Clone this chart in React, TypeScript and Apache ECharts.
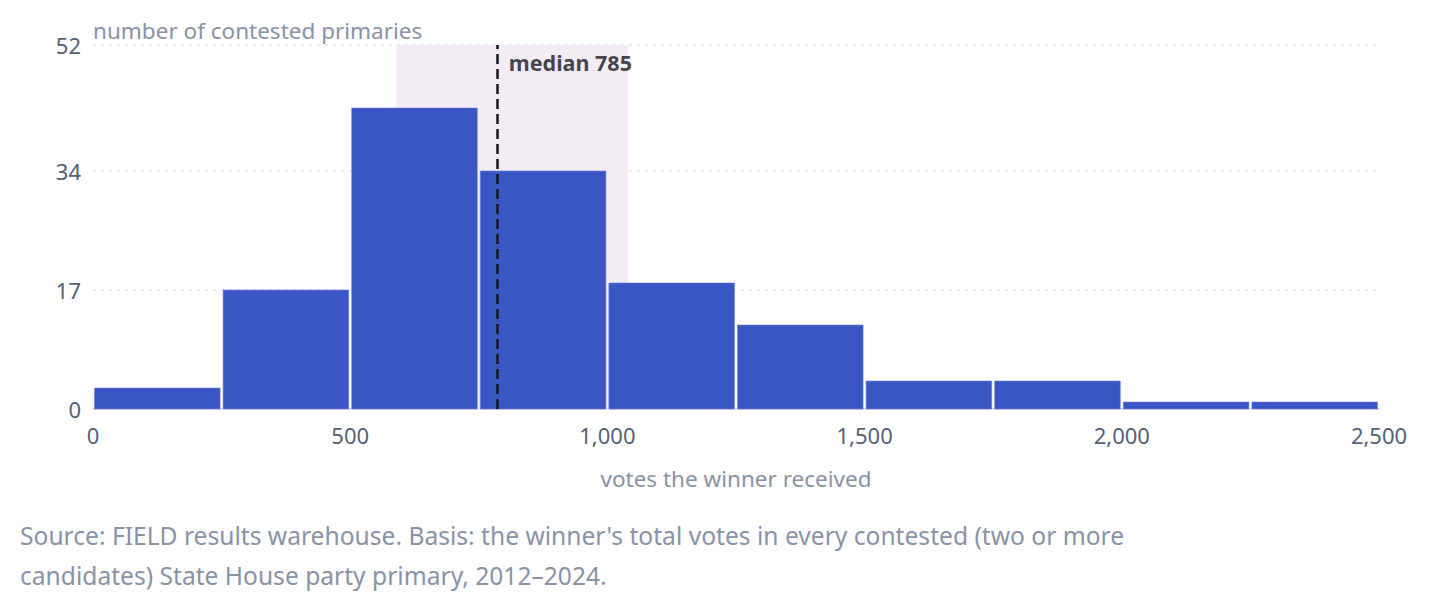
import { useEffect, useRef } from "react";
import * as echarts from "echarts";

const binStarts = [0, 250, 500, 750, 1000, 1250, 1500, 1750, 2000, 2250];
const binEnds = [250, 500, 750, 1000, 1250, 1500, 1750, 2000, 2250, 2500];
const counts = [3, 17, 43, 34, 18, 12, 4, 4, 1, 1];
const yTicks = [0, 17, 34, 52];
const median = 785;
const iqr = [590, 1040];
const caption = [
  "Source: FIELD results warehouse. Basis: the winner's total votes in every contested (two or more",
  "candidates) State House party primary, 2012\u20132024.",
];

const FONT = "'Noto Sans', 'Open Sans', sans-serif";
const MUTED = "#8a92a5";
const TICK = "#566074";

export default function App() {
  const ref = useRef<HTMLDivElement>(null);

  useEffect(() => {
    const el = ref.current;
    if (!el) return;
    const chart = echarts.init(el, undefined, { renderer: "svg" });
    const bins = binStarts.map((s, i) => [s, binEnds[i], counts[i]]);
    chart.setOption({
      animation: false,
      textStyle: { fontFamily: FONT },
      grid: { left: 93, right: 52, top: 45, bottom: 202 },
      xAxis: {
        type: "value",
        min: 0,
        max: 2500,
        interval: 500,
        name: "votes the winner received",
        nameLocation: "middle",
        nameGap: 58,
        nameTextStyle: { color: MUTED, fontSize: 22.5, fontFamily: FONT },
        axisLine: { show: true, lineStyle: { color: "#dfe3ee", width: 2 } },
        axisTick: { show: false },
        splitLine: { show: false },
        axisLabel: {
          color: TICK,
          fontSize: 22,
          margin: 15,
          fontFamily: FONT,
          formatter: (v: number) => v.toLocaleString("en-US"),
        },
      },
      yAxis: {
        type: "value",
        min: 0,
        max: 52,
        name: "number of contested primaries",
        nameLocation: "end",
        nameGap: 15,
        nameTextStyle: {
          color: MUTED,
          fontSize: 22.5,
          fontFamily: FONT,
          align: "left",
          verticalAlign: "middle",
        },
        axisLine: { show: false },
        axisTick: { show: false, customValues: yTicks },
        axisLabel: {
          color: TICK,
          fontSize: 22,
          margin: 12,
          fontFamily: FONT,
          customValues: yTicks,
        },
        splitLine: {
          show: true,
          lineStyle: { color: "#dfe2ea", type: [3, 5], width: 1.5 },
        },
      },
      series: [
        {
          type: "line",
          data: [],
          z: 1,
          silent: true,
          markArea: {
            silent: true,
            itemStyle: { color: "#f3ecf5" },
            data: [[{ xAxis: iqr[0] }, { xAxis: iqr[1] }]],
          },
        },
        {
          type: "custom",
          z: 2,
          data: bins,
          encode: { x: [0, 1], y: 2 },
          renderItem: (_p: any, api: any) => {
            const a = api.coord([api.value(0), api.value(2)]);
            const b = api.coord([api.value(1), 0]);
            return {
              type: "rect",
              shape: {
                x: a[0] + 1.5,
                y: a[1],
                width: b[0] - a[0] - 3,
                height: b[1] - a[1],
              },
              style: { fill: "#3a55c4", stroke: "#6b7fd6", lineWidth: 0.6 },
            };
          },
        },
        {
          type: "scatter",
          z: 5,
          symbolSize: 0,
          silent: true,
          data: [[median, 52]],
          label: {
            show: true,
            position: "right",
            distance: 12,
            offset: [0, 17],
            formatter: `median ${median}`,
            color: "#15161f",
            fontSize: 21.5,
            fontWeight: "bold",
            fontFamily: FONT,
          },
          markLine: {
            silent: true,
            symbol: "none",
            label: { show: false },
            lineStyle: { color: "#15161f", width: 2.5, type: [10, 5] },
            data: [{ xAxis: median }],
          },
        },
      ],
      graphic: caption.map((t, i) => ({
        type: "text",
        left: 20,
        top: 523 + i * 40,
        style: { text: t, fill: MUTED, fontSize: 24.6, fontFamily: FONT },
      })),
    });
    return () => chart.dispose();
  }, []);

  return (
    <div
      ref={ref}
      style={{ position: "absolute", left: 0, top: 0, width: 1431, height: 611 }}
    />
  );
}
